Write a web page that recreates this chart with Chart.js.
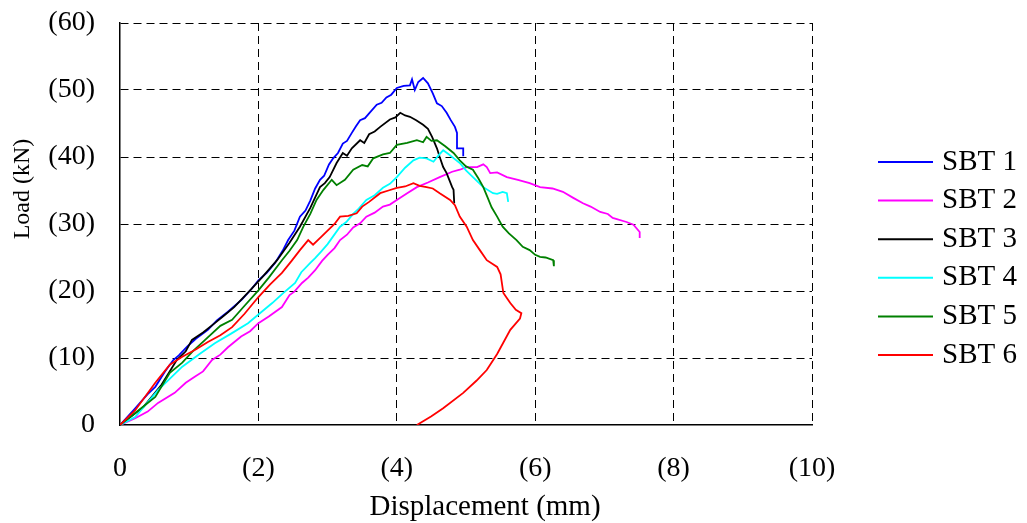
<!DOCTYPE html>
<html>
<head>
<meta charset="utf-8">
<script src="https://cdn.jsdelivr.net/npm/chart.js@4.4.1/dist/chart.umd.min.js"></script>
<style>
  html, body { margin: 0; padding: 0; background: #fff; }
  #wrap { position: relative; width: 1027px; height: 523px; }
</style>
</head>
<body>
<div id="wrap"><canvas id="loadChart"></canvas></div>
<script>
// displacement (mm), load (kN) pairs
const sbt1 = [[0,0],[0.22,2.5],[0.4,4.6],[0.51,5.7],[0.65,8.0],[0.77,9.7],[0.85,10.4],[0.97,11.7],[1.1,12.9],[1.27,14.2],[1.4,15.6],[1.56,16.9],[1.76,18.7],[1.9,20.3],[2.0,21.6],[2.12,22.7],[2.24,24.2],[2.35,26.0],[2.43,27.6],[2.52,29.0],[2.6,31.1],[2.68,32.0],[2.75,33.5],[2.82,35.3],[2.89,36.6],[2.95,37.2],[3.02,38.9],[3.08,39.8],[3.15,40.6],[3.22,42.0],[3.28,42.4],[3.35,43.6],[3.41,44.6],[3.47,45.5],[3.54,45.8],[3.6,46.5],[3.71,47.8],[3.78,48.1],[3.85,48.9],[3.92,49.3],[4.0,50.3],[4.1,50.6],[4.19,50.7],[4.22,51.6],[4.26,50.0],[4.31,51.2],[4.38,51.8],[4.45,51.0],[4.52,49.5],[4.58,48.0],[4.65,47.6],[4.72,46.6],[4.78,45.5],[4.84,44.5],[4.87,43.6],[4.87,41.3],[4.96,41.3],[4.96,40.1]];
const sbt2 = [[0,0],[0.22,1.0],[0.4,2.0],[0.55,3.3],[0.79,4.8],[0.95,6.3],[1.08,7.2],[1.2,8.0],[1.33,9.7],[1.45,10.5],[1.56,11.6],[1.75,13.2],[1.88,14.0],[2.0,15.2],[2.15,16.2],[2.34,17.6],[2.45,19.4],[2.52,19.9],[2.63,21.2],[2.72,22.0],[2.82,23.1],[2.92,24.5],[3.0,25.4],[3.1,26.4],[3.18,27.6],[3.28,28.4],[3.37,29.5],[3.47,30.1],[3.56,31.1],[3.68,31.7],[3.8,32.6],[3.9,32.9],[4.0,33.6],[4.15,34.6],[4.29,35.5],[4.45,36.2],[4.62,37.0],[4.8,37.8],[4.91,38.1],[5.01,38.5],[5.16,38.5],[5.25,38.9],[5.3,38.5],[5.35,37.6],[5.45,37.7],[5.59,37.0],[5.75,36.6],[5.92,36.1],[6.07,35.5],[6.25,35.3],[6.4,34.8],[6.55,33.9],[6.69,33.1],[6.8,32.6],[6.94,31.8],[7.05,31.5],[7.12,30.9],[7.32,30.3],[7.42,29.9],[7.51,28.8],[7.51,27.9]];
const sbt3 = [[0,0],[0.34,2.7],[0.6,6.0],[0.82,9.7],[0.95,11.0],[1.04,12.7],[1.2,13.8],[1.37,15.2],[1.5,16.3],[1.65,17.6],[1.88,20.1],[2.05,22.0],[2.27,24.6],[2.45,27.2],[2.6,29.6],[2.75,32.4],[2.89,35.5],[2.96,36.1],[3.03,37.0],[3.13,39.1],[3.22,40.6],[3.28,40.2],[3.35,41.3],[3.47,42.5],[3.53,42.1],[3.6,43.4],[3.68,43.8],[3.76,44.5],[3.9,45.6],[3.98,45.9],[4.05,46.6],[4.12,46.2],[4.19,46.0],[4.28,45.5],[4.38,44.8],[4.45,44.2],[4.51,43.0],[4.58,41.3],[4.62,40.0],[4.67,38.5],[4.72,37.6],[4.8,35.5],[4.82,35.1],[4.83,33.1]];
const sbt4 = [[0,0],[0.22,1.2],[0.55,5.2],[0.9,8.7],[1.15,10.6],[1.37,12.2],[1.6,13.6],[1.85,15.2],[2.0,16.5],[2.2,18.2],[2.35,19.6],[2.53,21.2],[2.62,22.8],[2.75,24.2],[2.82,24.9],[2.9,25.8],[3.0,27.0],[3.18,29.6],[3.27,30.3],[3.37,31.5],[3.45,32.3],[3.56,33.6],[3.68,34.3],[3.8,35.4],[3.9,36.0],[4.0,37.0],[4.12,38.4],[4.24,39.5],[4.33,39.9],[4.43,39.8],[4.53,39.3],[4.6,40.2],[4.67,41.0],[4.75,40.4],[4.91,39.1],[5.0,38.0],[5.1,37.0],[5.25,35.5],[5.39,34.6],[5.45,34.5],[5.53,34.8],[5.59,34.6],[5.61,33.3]];
const sbt5 = [[0,0],[0.22,1.8],[0.51,4.2],[0.72,7.8],[0.9,9.3],[1.05,11.0],[1.23,12.7],[1.45,14.8],[1.62,15.7],[1.8,17.8],[2.0,20.1],[2.15,22.0],[2.34,24.6],[2.45,26.0],[2.56,27.6],[2.65,29.6],[2.75,31.5],[2.84,33.6],[2.94,35.1],[3.06,36.6],[3.13,35.8],[3.25,36.6],[3.37,38.1],[3.5,38.8],[3.58,38.6],[3.66,39.8],[3.8,40.4],[3.9,40.6],[4.0,41.8],[4.15,42.1],[4.29,42.5],[4.38,42.2],[4.43,43.0],[4.5,42.4],[4.58,42.5],[4.7,41.6],[4.82,40.6],[4.91,39.5],[5.0,38.6],[5.1,38.1],[5.18,36.8],[5.25,35.5],[5.31,34.0],[5.37,32.5],[5.45,31.1],[5.53,29.6],[5.62,28.6],[5.73,27.6],[5.82,26.6],[5.92,26.1],[6.0,25.4],[6.07,25.1],[6.15,25.0],[6.26,24.6],[6.27,23.7]];
const sbt6 = [[0,0],[0.22,2.2],[0.51,6.3],[0.72,9.0],[0.9,10.2],[1.1,11.3],[1.27,12.4],[1.45,13.4],[1.62,14.6],[1.8,16.6],[2.0,19.1],[2.17,21.0],[2.34,22.7],[2.48,24.5],[2.6,26.1],[2.72,27.6],[2.79,26.9],[2.9,28.0],[3.0,29.0],[3.1,30.0],[3.18,31.1],[3.3,31.2],[3.42,31.6],[3.5,32.6],[3.6,33.3],[3.76,34.6],[3.88,35.0],[4.0,35.4],[4.12,35.6],[4.24,36.1],[4.33,35.7],[4.43,35.5],[4.52,35.3],[4.62,34.6],[4.77,33.6],[4.84,32.8],[4.91,31.1],[5.01,29.6],[5.1,27.6],[5.2,26.1],[5.3,24.6],[5.45,23.6],[5.5,22.5],[5.54,19.7],[5.6,18.8],[5.64,18.2],[5.72,17.2],[5.8,16.7],[5.78,15.9],[5.64,14.2],[5.45,10.6],[5.3,8.2],[5.15,6.6],[4.96,4.8],[4.67,2.5],[4.5,1.3],[4.29,0]];

const seriesNames = ['SBT 1', 'SBT 2', 'SBT 3', 'SBT 4', 'SBT 5', 'SBT 6'];
const seriesData = [sbt1, sbt2, sbt3, sbt4, sbt5, sbt6];
const seriesColors = ['#0000ff', '#ff00ff', '#000000', '#00ffff', '#008000', '#ff0000'];
const xTickLabels = ['0', '(2)', '(4)', '(6)', '(8)', '(10)'];
const yTickLabels = ['0', '(10)', '(20)', '(30)', '(40)', '(50)', '(60)'];

const serif = "'Liberation Serif', 'Times New Roman', serif";

const datasets = seriesData.map((pts, i) => ({
  label: seriesNames[i],
  data: pts.map(p => ({x: p[0], y: p[1]})),
  borderColor: seriesColors[i],
  backgroundColor: seriesColors[i],
  borderWidth: 1.8,
  pointRadius: 0,
  showLine: true,
  tension: 0,
  order: seriesData.length - 1 - i   // later series drawn on top
}));

// legend and axis titles drawn next to the plot area
const sideText = {
  id: 'sideText',
  afterDraw(chart) {
    const {ctx, chartArea} = chart;
    ctx.save();
    ctx.fillStyle = '#000';
    ctx.textBaseline = 'middle';

    ctx.font = '29px ' + serif;
    ctx.textAlign = 'left';
    chart.data.datasets.forEach((ds, i) => {
      const y = 162 + i * 38.6;
      ctx.strokeStyle = ds.borderColor;
      ctx.lineWidth = 2;
      ctx.beginPath();
      ctx.moveTo(chartArea.right + 66, y);
      ctx.lineTo(chartArea.right + 121, y);
      ctx.stroke();
      ctx.fillText(ds.label, chartArea.right + 130, y);
    });

    ctx.textAlign = 'center';
    ctx.font = '29px ' + serif;
    ctx.fillText('Displacement (mm)', 485, 507);

    ctx.font = '24px ' + serif;
    ctx.translate(23, 189);
    ctx.rotate(-Math.PI / 2);
    ctx.fillText('Load (kN)', 0, 0);
    ctx.restore();
  }
};

// dashed grid lines, none on the zero line (the solid axis sits there)
const gridDash = c => (c.type === 'tick' ? [8, 5] : []);
const gridColor = c => (c.tick && c.tick.value === 0 ? 'rgba(0,0,0,0)' : '#000');

new Chart(document.getElementById('loadChart'), {
  type: 'scatter',
  data: { datasets },
  options: {
    responsive: true,
    maintainAspectRatio: false,
    animation: false,
    layout: { padding: { left: 0, top: 23, right: 215, bottom: 0 } },
    plugins: { legend: { display: false }, tooltip: { enabled: false } },
    scales: {
      x: {
        type: 'linear', min: 0, max: 10,
        afterFit: s => { s.height = 98; },
        grid: { color: gridColor, lineWidth: 1, drawTicks: false },
        border: { display: true, color: '#000', width: 1.5, dash: gridDash },
        ticks: {
          stepSize: 2, padding: 27, color: '#000', maxRotation: 0,
          font: { family: serif, size: 28 },
          callback: (v, i) => xTickLabels[i]
        }
      },
      y: {
        min: 0, max: 60,
        afterFit: s => { s.width = 120; s.paddingTop = 10; s.paddingBottom = 10; },
        grid: { color: gridColor, lineWidth: 1, drawTicks: false },
        border: { display: true, color: '#000', width: 1.5, dash: gridDash },
        ticks: {
          stepSize: 10, padding: 25, color: '#000',
          font: { family: serif, size: 28 },
          callback: (v, i) => yTickLabels[i]
        }
      }
    }
  },
  plugins: [sideText]
});
</script>
</body>
</html>
